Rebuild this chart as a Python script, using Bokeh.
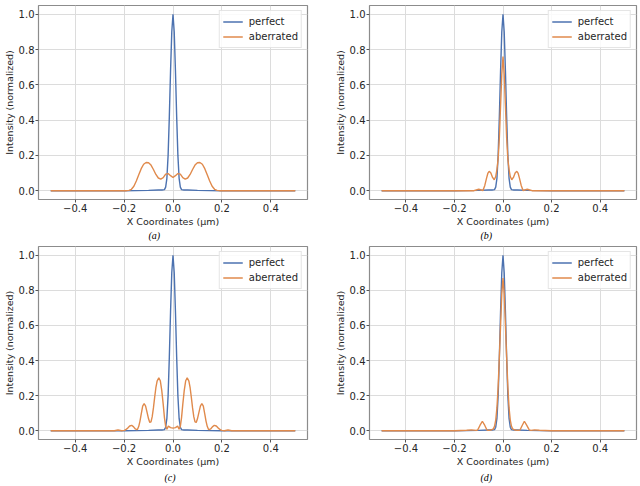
from bokeh.plotting import figure
from bokeh.layouts import column, row
from bokeh.models import FixedTicker, Range1d
from bokeh.embed import file_html
from bokeh.resources import INLINE

# ---------------- data ----------------
x_ticks = [-0.4, -0.2, 0.0, 0.2, 0.4]
x_tick_labels = ["\u22120.4", "\u22120.2", "0.0", "0.2", "0.4"]
y_ticks = [0.0, 0.2, 0.4, 0.6, 0.8, 1.0]
y_tick_labels = ["0.0", "0.2", "0.4", "0.6", "0.8", "1.0"]
captions = ["(a)", "(b)", "(c)", "(d)"]
series_names = ["perfect", "aberrated"]

# perfect (diffraction limited) profile, same in every panel
perfect_x = [-0.5, -0.2, -0.1, -0.06, -0.045, -0.035, -0.03, -0.025, -0.02, -0.015, -0.01, -0.005,
             0.0, 0.005, 0.01, 0.015, 0.02, 0.025, 0.03, 0.035, 0.045, 0.06, 0.1, 0.2, 0.5]
perfect_y = [0.0, 0.0, 0.002, 0.004, 0.004, 0.006, 0.02, 0.07, 0.2, 0.42, 0.68, 0.9,
             1.0, 0.9, 0.68, 0.42, 0.2, 0.07, 0.02, 0.006, 0.004, 0.004, 0.002, 0.0, 0.0]

# (a) aberrated
ab_a_x = [-0.5, -0.20, -0.19, -0.18, -0.17, -0.16, -0.15, -0.14, -0.13, -0.12, -0.11, -0.10,
          -0.09, -0.08, -0.07, -0.06, -0.05, -0.04, -0.03, -0.02, -0.01, 0.0,
          0.01, 0.02, 0.03, 0.04, 0.05, 0.06, 0.07, 0.08, 0.09, 0.10, 0.11, 0.12,
          0.13, 0.14, 0.15, 0.16, 0.17, 0.18, 0.19, 0.20, 0.5]
ab_a_y = [0.0, 0.0, 0.0, 0.002, 0.008, 0.025, 0.055, 0.09, 0.125, 0.15, 0.16, 0.158,
          0.145, 0.12, 0.092, 0.072, 0.066, 0.074, 0.094, 0.097, 0.085, 0.075,
          0.085, 0.097, 0.094, 0.074, 0.066, 0.072, 0.092, 0.12, 0.145, 0.158, 0.16, 0.15,
          0.125, 0.09, 0.055, 0.025, 0.008, 0.002, 0.0, 0.0, 0.0]

# (b) aberrated
ab_b_x = [-0.5, -0.12, -0.11, -0.1, -0.09, -0.083, -0.075, -0.068, -0.062, -0.057, -0.05, -0.043,
          -0.036, -0.03, -0.025, -0.02, -0.015, -0.01, -0.005, 0.0,
          0.005, 0.01, 0.015, 0.02, 0.025, 0.03, 0.036, 0.043, 0.05, 0.057, 0.062, 0.068,
          0.075, 0.083, 0.09, 0.1, 0.11, 0.12, 0.5]
ab_b_y = [0.0, 0.0, 0.004, 0.008, 0.004, 0.0, 0.03, 0.07, 0.1, 0.11, 0.1, 0.075,
          0.062, 0.08, 0.12, 0.18, 0.3, 0.48, 0.66, 0.76,
          0.66, 0.48, 0.3, 0.18, 0.12, 0.08, 0.062, 0.075, 0.1, 0.11, 0.1, 0.07,
          0.03, 0.0, 0.004, 0.008, 0.004, 0.0, 0.0]

# (c) aberrated
ab_c_x = [-0.5, -0.25, -0.24, -0.225, -0.21, -0.2, -0.195, -0.185, -0.177, -0.169, -0.161, -0.154,
          -0.148, -0.145, -0.14, -0.135, -0.13, -0.124, -0.118, -0.112, -0.106, -0.1, -0.095,
          -0.09, -0.085, -0.08, -0.075, -0.07, -0.065, -0.058, -0.052, -0.046, -0.04, -0.035,
          -0.03, -0.025, -0.019, -0.01, 0.0,
          0.01, 0.019, 0.025, 0.03, 0.035, 0.04, 0.046, 0.052, 0.058, 0.065, 0.07, 0.075,
          0.08, 0.085, 0.09, 0.095, 0.1, 0.106, 0.112, 0.118, 0.124, 0.13, 0.135, 0.14,
          0.145, 0.148, 0.154, 0.161, 0.169, 0.177, 0.185, 0.195, 0.2, 0.21, 0.225, 0.24,
          0.25, 0.5]
ab_c_y = [0.0, 0.0, 0.0, 0.004, 0.0, 0.002, 0.004, 0.015, 0.027, 0.031, 0.022, 0.01,
          0.006, 0.008, 0.025, 0.055, 0.095, 0.14, 0.155, 0.14, 0.105, 0.068, 0.047,
          0.05, 0.08, 0.13, 0.19, 0.245, 0.283, 0.302, 0.285, 0.23, 0.15, 0.075,
          0.025, 0.008, 0.026, 0.018, 0.015,
          0.018, 0.026, 0.008, 0.025, 0.075, 0.15, 0.23, 0.285, 0.302, 0.283, 0.245, 0.19,
          0.13, 0.08, 0.05, 0.047, 0.068, 0.105, 0.14, 0.155, 0.14, 0.095, 0.055, 0.025,
          0.008, 0.006, 0.01, 0.022, 0.031, 0.027, 0.015, 0.004, 0.002, 0.0, 0.004, 0.0,
          0.0, 0.0]

# (d) aberrated
ab_d_x = [-0.5, -0.2, -0.15, -0.13, -0.11, -0.104, -0.095, -0.085, -0.075, -0.066, -0.06, -0.05,
          -0.04, -0.035, -0.03, -0.025, -0.02, -0.015, -0.01, -0.005, 0.0,
          0.005, 0.01, 0.015, 0.02, 0.025, 0.03, 0.035, 0.04, 0.05, 0.062, 0.07, 0.079,
          0.088, 0.098, 0.108, 0.115, 0.13, 0.15, 0.2, 0.5]
ab_d_y = [0.0, 0.0, 0.003, 0.005, 0.002, 0.005, 0.03, 0.054, 0.03, 0.004, 0.002, 0.004,
          0.01, 0.025, 0.06, 0.13, 0.25, 0.42, 0.6, 0.78, 0.87,
          0.78, 0.6, 0.42, 0.25, 0.13, 0.06, 0.025, 0.01, 0.004, 0.002, 0.004, 0.03,
          0.054, 0.03, 0.005, 0.002, 0.005, 0.003, 0.0, 0.0]

aberrated = [(ab_a_x, ab_a_y), (ab_b_x, ab_b_y), (ab_c_x, ab_c_y), (ab_d_x, ab_d_y)]

# ---------------- styling ----------------
BLUE = "#4c72b0"
ORANGE = "#e08a4c"
FONT = "DejaVu Sans"
TXT = "#262626"

# per panel: width, height, min borders (l, r, t, b), caption offset / standoff
panel_geom = [
    dict(width=320, height=243, l=36, r=13, t=5, b=44, cap=110, so=0),
    dict(width=320, height=243, l=49, r=4, t=5, b=44, cap=111, so=0),
    dict(width=320, height=243, l=36, r=13, t=3, b=46, cap=126, so=4),
    dict(width=320, height=243, l=49, r=4, t=3, b=46, cap=111, so=4),
]


def make_panel(i):
    g = panel_geom[i]
    p = figure(width=g["width"], height=g["height"], output_backend="svg",
               toolbar_location=None, tools="",
               x_range=Range1d(-0.55, 0.55), y_range=Range1d(-0.05, 1.05),
               min_border_left=g["l"], min_border_right=g["r"],
               min_border_top=g["t"], min_border_bottom=g["b"],
               title=captions[i], title_location="below")
    p.title.text_font = "Liberation Serif"
    p.title.text_font_style = "italic"
    p.title.text_font_size = "10px"
    p.title.text_color = "#000000"
    p.title.align = "left"
    p.title.vertical_align = "top"
    p.title.offset = g["cap"]
    p.title.standoff = g["so"]
    p.title.text_line_height = 1.0

    p.outline_line_color = "#8c8c8c"
    p.outline_line_width = 1.2
    p.background_fill_color = "white"
    p.border_fill_color = "white"

    p.xaxis.ticker = FixedTicker(ticks=x_ticks)
    p.yaxis.ticker = FixedTicker(ticks=y_ticks)
    p.xaxis.major_label_overrides = dict(zip(x_ticks, x_tick_labels))
    p.yaxis.major_label_overrides = dict(zip(y_ticks, y_tick_labels))
    p.xaxis.axis_label = "X Coordinates (\u03bcm)"
    p.yaxis.axis_label = "Intensity (normalized)"
    for ax in (p.xaxis[0], p.yaxis[0]):
        ax.axis_line_color = None
        ax.major_tick_out = 3
        ax.major_tick_in = 0
        ax.major_tick_line_color = "#555555"
        ax.minor_tick_line_color = None
        ax.major_label_text_font = FONT
        ax.major_label_text_font_size = "10px"
        ax.major_label_text_color = TXT
        ax.major_label_standoff = 1
        ax.axis_label_text_font = FONT
        ax.axis_label_text_font_size = "9.5px"
        ax.axis_label_text_font_style = "normal"
        ax.axis_label_text_color = TXT
        ax.axis_label_standoff = 1

    p.grid.grid_line_color = "#dcdcdc"
    p.grid.grid_line_width = 1

    p.line(perfect_x, perfect_y, color=BLUE, line_width=1.4, legend_label=series_names[0])
    ax_, ay_ = aberrated[i]
    p.line(ax_, ay_, color=ORANGE, line_width=1.4, legend_label=series_names[1])

    lg = p.legend[0]
    lg.location = "top_right"
    lg.margin = 5
    lg.padding = 3
    lg.spacing = 0
    lg.label_standoff = 6
    lg.glyph_width = 20
    lg.glyph_height = 15
    lg.label_height = 15
    lg.label_text_font = FONT
    lg.label_text_font_size = "10px"
    lg.label_text_color = TXT
    lg.border_line_color = "#cccccc"
    lg.border_line_width = 1
    lg.background_fill_color = "white"
    lg.background_fill_alpha = 0.85
    return p


panels = [make_panel(i) for i in range(4)]
layout = column(row(panels[0], panels[1]), row(panels[2], panels[3]))

open("out.html", "w").write(file_html(layout, INLINE))
